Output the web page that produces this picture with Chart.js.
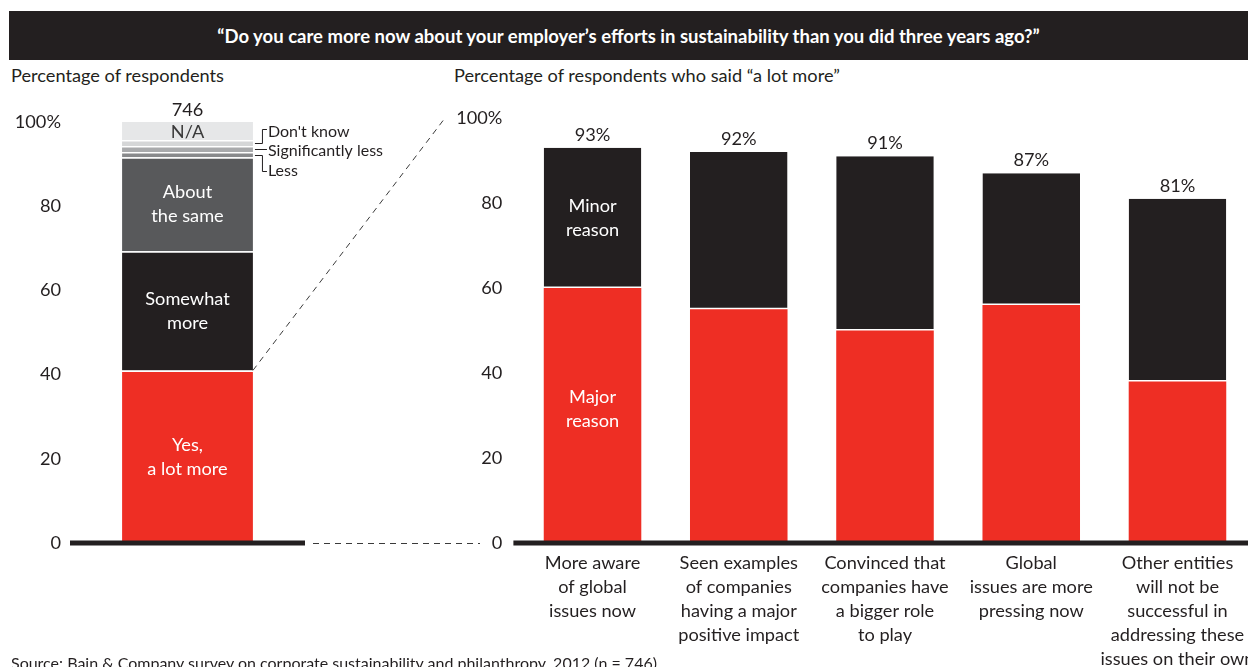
<!DOCTYPE html>
<html>
<head>
<meta charset="utf-8">
<script src="https://cdn.jsdelivr.net/npm/chart.js@4.4.1/dist/chart.umd.min.js"></script>
<style>
html,body{margin:0;padding:0;background:#fff;overflow:hidden;width:1248px;height:667px;}
#wrap{position:relative;width:1248px;height:667px;font-family:Lato,"Open Sans",sans-serif;color:#231F20;}
#title{position:absolute;left:9px;top:11px;width:1239px;height:49px;background:#231F20;color:#fff;font-weight:bold;font-size:18.5px;display:flex;align-items:center;justify-content:center;}
.sub{position:absolute;top:64px;font-size:18.2px;line-height:22px;white-space:nowrap;}
#c1{position:absolute;left:0;top:0;}
#c2{position:absolute;left:440px;top:0;}
#ov{position:absolute;left:0;top:0;pointer-events:none;}
#src{position:absolute;left:11px;top:653px;font-size:16px;line-height:20px;white-space:nowrap;}
</style>
</head>
<body>
<div id="wrap">
  <div id="title">“Do you care more now about your employer’s efforts in sustainability than you did three years ago?”</div>
  <div class="sub" style="left:11px;">Percentage of respondents</div>
  <div class="sub" style="left:454px;">Percentage of respondents who said “a lot more”</div>
  <canvas id="c1" width="440" height="667"></canvas>
  <canvas id="c2" width="830" height="667"></canvas>
  <canvas id="ov" width="1248" height="667"></canvas>
  <div id="src">Source: Bain &amp; Company survey on corporate sustainability and philanthropy, 2012 (n = 746)</div>
</div>
<script>
// ---------- DATA ----------
const leftCategories = ['All respondents'];
const leftSeriesNames = ['Yes, a lot more', 'Somewhat more', 'About the same', 'Less', 'Significantly less', "Don't know", 'N/A'];
const leftValues = [41, 28.3, 22.3, 1.3, 1.4, 1.4, 4.3];
const leftInnerLabels = [['Yes,', 'a lot more'], ['Somewhat', 'more'], ['About', 'the same'], null, null, null, ['N/A']];
const leftSideLabels = [null, null, null, 'Less', 'Significantly less', "Don't know", null];
const leftSampleSize = '746';

const rightCategories = [
  ['More aware', 'of global', 'issues now'],
  ['Seen examples', 'of companies', 'having a major', 'positive impact'],
  ['Convinced that', 'companies have', 'a bigger role', 'to play'],
  ['Global', 'issues are more', 'pressing now'],
  ['Other entities', 'will not be', 'successful in', 'addressing these', 'issues on their own']
];
const rightSeriesNames = ['Major reason', 'Minor reason'];
const majorReason = [60, 55, 50, 56, 38];
const minorReason = [33, 37, 41, 31, 43];
const totalLabels = ['93%', '92%', '91%', '87%', '81%'];

const yTickValues = [0, 20, 40, 60, 80, 100];

// ---------- STYLE ----------
const FONT = 'Lato, "Open Sans", sans-serif';
const FS = 18.2;
const INK = '#231F20';
const RED = '#EE2E24';
const leftColors = [RED, INK, '#58595B', '#898A8C', '#A9AAAC', '#D5D6D7', '#E6E7E8'];
const leftTextColors = ['#fff', '#fff', '#fff', null, null, null, '#3a3a3a'];

function yTickCb(v) { return v === 100 ? '100%' : String(v); }

// ---------- LEFT CHART ----------
const leftPlugin = {
  id: 'leftDeco',
  afterDatasetsDraw(chart) {
    const ctx = chart.ctx;
    const ys = chart.scales.y;
    ctx.save();
    ctx.fillStyle = INK;
    const y0 = ys.getPixelForValue(0);
    ctx.fillRect(chart.chartArea.left, y0 - 2.5, chart.chartArea.right - chart.chartArea.left, 5);
    ctx.textAlign = 'center';
    ctx.textBaseline = 'middle';
    let topBar = null;
    leftValues.forEach((v, i) => {
      const el = chart.getDatasetMeta(i).data[0];
      const top = el.y, bottom = el.base;
      const lines = leftInnerLabels[i];
      if (lines) {
        ctx.fillStyle = leftTextColors[i];
        ctx.font = FS + 'px ' + FONT;
        const cy = (top + bottom) / 2 + (lines.length === 1 ? 1 : 0);
        const lh = 24;
        lines.forEach((t, k) => ctx.fillText(t, el.x, cy + (k - (lines.length - 1) / 2) * lh));
      }
      topBar = el;
    });
    ctx.fillStyle = INK;
    ctx.font = FS + 'px ' + FONT;
    ctx.fillText(leftSampleSize, topBar.x, topBar.y - 12);
    const right = topBar.x + topBar.width / 2;
    const elLess = chart.getDatasetMeta(3).data[0];
    const elSig = chart.getDatasetMeta(4).data[0];
    const elDk = chart.getDatasetMeta(5).data[0];
    ctx.strokeStyle = INK;
    ctx.lineWidth = 1;
    const bx = right + 9.5, tx = right + 15;
    const mDk = Math.round((elDk.y + elDk.base) / 2) + 0.5, mSig = Math.round((elSig.y + elSig.base) / 2) + 0.5, mLess = Math.round((elLess.y + elLess.base) / 2) + 0.5;
    ctx.beginPath();
    ctx.moveTo(right + 2, mDk); ctx.lineTo(bx, mDk); ctx.lineTo(bx, mDk - 14); ctx.lineTo(tx - 1, mDk - 14);
    ctx.moveTo(right + 2, mSig); ctx.lineTo(tx - 1, mSig);
    ctx.moveTo(right + 2, mLess); ctx.lineTo(bx, mLess); ctx.lineTo(bx, mLess + 16); ctx.lineTo(tx - 1, mLess + 16);
    ctx.stroke();
    ctx.textAlign = 'left';
    ctx.font = '16px ' + FONT;
    ctx.fillText(leftSideLabels[5], tx, mDk - 12);
    ctx.fillText(leftSideLabels[4], tx, mSig + 1);
    ctx.fillText(leftSideLabels[3], tx, mLess + 15);
    ctx.restore();
  }
};

const c1 = new Chart(document.getElementById('c1'), {
  type: 'bar',
  data: {
    labels: leftCategories,
    datasets: leftValues.map((v, i) => ({
      label: leftSeriesNames[i],
      data: [v],
      backgroundColor: leftColors[i],
      borderColor: '#ffffff',
      borderWidth: i === leftValues.length - 1 ? 0 : { top: 1.5, left: 0, right: 0, bottom: 0 },
      borderSkipped: false,
      barPercentage: 1,
      categoryPercentage: 0.557
    }))
  },
  options: {
    responsive: false,
    animation: false,
    events: [],
    layout: { padding: { top: 122, bottom: 124, left: 0, right: 135 } },
    plugins: { legend: { display: false }, tooltip: { enabled: false }, title: { display: false } },
    scales: {
      x: { stacked: true, display: false },
      y: {
        stacked: true, min: 0, max: 100,
        afterFit(s) { s.width = 70; },
        afterBuildTicks(s) { s.ticks = yTickValues.map(v => ({ value: v })); },
        grid: { display: false, drawTicks: false },
        border: { display: false },
        ticks: { padding: 9, color: INK, font: { family: FONT, size: FS }, callback: yTickCb }
      }
    }
  },
  plugins: [leftPlugin]
});

// ---------- RIGHT CHART ----------
const rightPlugin = {
  id: 'rightDeco',
  afterDatasetsDraw(chart) {
    const ctx = chart.ctx;
    const ys = chart.scales.y;
    ctx.save();
    const y0 = ys.getPixelForValue(0);
    ctx.fillStyle = INK;
    ctx.fillRect(chart.chartArea.left - 6, y0 - 2.5, chart.width, 5);
    ctx.textAlign = 'center';
    ctx.textBaseline = 'middle';
    ctx.font = FS + 'px ' + FONT;
    const m0 = chart.getDatasetMeta(0).data;
    const m1 = chart.getDatasetMeta(1).data;
    m1.forEach((el, i) => {
      ctx.fillStyle = INK;
      ctx.fillText(totalLabels[i], el.x, el.y - 13);
    });
    ctx.fillStyle = '#fff';
    const e1 = m1[0], e0 = m0[0];
    let cy = (e1.y + e1.base) / 2;
    ctx.fillText('Minor', e1.x, cy - 12);
    ctx.fillText('reason', e1.x, cy + 12);
    cy = (e0.y + e0.base) / 2 - 6;
    ctx.fillText('Major', e0.x, cy - 12);
    ctx.fillText('reason', e0.x, cy + 12);
    ctx.restore();
  }
};

const c2 = new Chart(document.getElementById('c2'), {
  type: 'bar',
  data: {
    labels: rightCategories,
    datasets: [
      { label: rightSeriesNames[0], data: majorReason, backgroundColor: RED, borderWidth: 0, barPercentage: 1, categoryPercentage: 0.667 },
      { label: rightSeriesNames[1], data: minorReason, backgroundColor: INK, borderColor: '#ffffff',
        borderWidth: { top: 0, left: 0, right: 0, bottom: 1.5 }, borderSkipped: false, barPercentage: 1, categoryPercentage: 0.667 }
    ]
  },
  options: {
    responsive: false,
    animation: false,
    events: [],
    layout: { padding: { top: 118, bottom: 0, left: 0, right: 19.4 } },
    plugins: { legend: { display: false }, tooltip: { enabled: false }, title: { display: false } },
    scales: {
      x: {
        stacked: true,
        afterFit(s) { s.height = 124; },
        grid: { display: false, drawTicks: false },
        border: { display: false },
        ticks: { padding: 8, color: INK, maxRotation: 0, autoSkip: false, font: { family: FONT, size: FS, lineHeight: 24 / FS } }
      },
      y: {
        stacked: true, min: 0, max: 100,
        afterFit(s) { s.width = 79.4; },
        afterBuildTicks(s) { s.ticks = yTickValues.map(v => ({ value: v })); },
        grid: { display: false, drawTicks: false },
        border: { display: false },
        ticks: { padding: 17, color: INK, font: { family: FONT, size: FS }, callback: yTickCb }
      }
    }
  },
  plugins: [rightPlugin]
});

// ---------- CONNECTOR OVERLAY ----------
(function () {
  const ov = document.getElementById('ov');
  const ctx = ov.getContext('2d');
  const off2 = 440;
  const redEl = c1.getDatasetMeta(0).data[0];
  const x1 = redEl.x + redEl.width / 2, y1 = redEl.y;
  const x2 = off2 + 5, y2 = c2.scales.y.getPixelForValue(100);
  const yZero = c1.scales.y.getPixelForValue(0);
  ctx.strokeStyle = '#3a3a3a';
  ctx.lineWidth = 1;
  ctx.setLineDash([6, 5]);
  ctx.beginPath();
  ctx.moveTo(x1, y1); ctx.lineTo(x2, y2);
  ctx.stroke();
  ctx.beginPath();
  ctx.moveTo(c1.chartArea.right + 8, yZero + 0.5); ctx.lineTo(off2 + 40, yZero + 0.5);
  ctx.stroke();
})();
</script>
</body>
</html>
